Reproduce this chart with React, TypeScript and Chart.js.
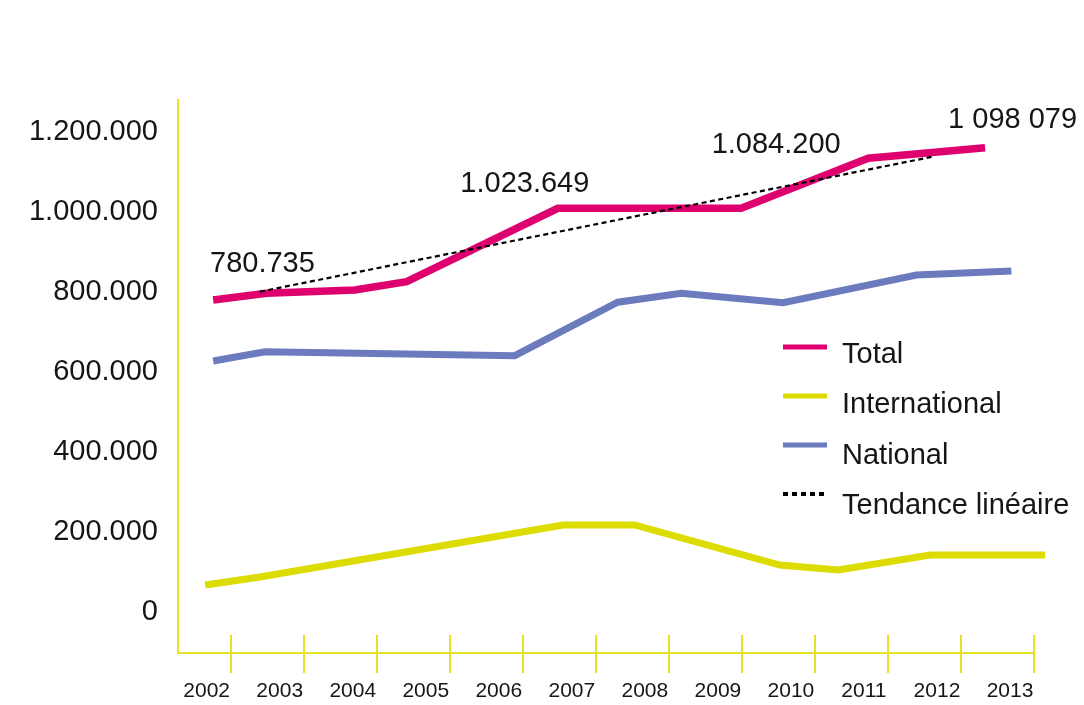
import React, { useEffect, useRef } from 'react';
import { Chart, registerables } from 'chart.js';

Chart.register(...registerables);

// ---- data ----
const years = [2002, 2003, 2004, 2005, 2006, 2007, 2008, 2009, 2010, 2011, 2012, 2013];
const yTickValues = [0, 200000, 400000, 600000, 800000, 1000000, 1200000];

const totalX = [2001.76, 2002.49, 2003.7, 2004.41, 2006.48, 2008.99, 2010.73, 2012.33];
const totalY = [780735, 797500, 805750, 826500, 1010000, 1010000, 1135000, 1161500];

const internationalX = [2001.65, 2002.38, 2006.55, 2007.53, 2009.52, 2010.32, 2011.58, 2013.15];
const internationalY = [68250, 87500, 218250, 218250, 118250, 105750, 143250, 143250];

const nationalX = [2001.76, 2002.47, 2005.89, 2007.3, 2008.17, 2009.565, 2011.39, 2012.69];
const nationalY = [628250, 651500, 641500, 775250, 797500, 774000, 843250, 853250];

const trendX = [2002.4, 2011.61];
const trendY = [801500, 1139000];

const seriesNames = ['Total', 'International', 'National', 'Tendance linéaire'];
const valueLabels = ['780.735', '1.023.649', '1.084.200', '1 098 079'];
const valueLabelPointIndex = [1, 4, 5, 7];

// ---- style ----
const PINK = '#DF006F';
const YELLOW = '#DCDC00';
const BLUE = '#6B7BBE';
const AXIS = '#E3E320';
const TEXT = '#161616';
const FONT = "'Liberation Sans', Arial, Helvetica, sans-serif";
const valueLabelOffsets: [number, number][] = [[-4, -21.6], [-33, -16.6], [35, -55], [27.5, -19.4]];

const fmt = (v: number) => String(v).replace(/\B(?=(\d{3})+(?!\d))/g, '.');
const pts = (xs: number[], ys: number[]) => xs.map((x, i) => ({ x, y: ys[i] }));

const upTicksPlugin = {
  id: 'upTicks',
  afterDraw(chart: any) {
    const { ctx, chartArea, scales } = chart;
    const xs = scales.x;
    ctx.save();
    ctx.strokeStyle = AXIS;
    ctx.lineWidth = 2;
    xs.ticks.forEach((t: any) => {
      const px = Math.round(xs.getPixelForValue(t.value));
      ctx.beginPath();
      ctx.moveTo(px, chartArea.bottom - 18);
      ctx.lineTo(px, chartArea.bottom);
      ctx.stroke();
    });
    ctx.restore();
  },
};

const valueLabelPlugin = {
  id: 'valueLabels',
  afterDatasetsDraw(chart: any) {
    const { ctx } = chart;
    const meta = chart.getDatasetMeta(0);
    ctx.save();
    ctx.font = `29px ${FONT}`;
    ctx.fillStyle = TEXT;
    ctx.textAlign = 'center';
    ctx.textBaseline = 'alphabetic';
    valueLabels.forEach((txt, i) => {
      const el = meta.data[valueLabelPointIndex[i]];
      const [dx, dy] = valueLabelOffsets[i];
      ctx.fillText(txt, el.x + dx, el.y + dy);
    });
    ctx.restore();
  },
};

const legendPlugin = {
  id: 'customLegend',
  afterDraw(chart: any) {
    const { ctx } = chart;
    ctx.save();
    chart.data.datasets.forEach((ds: any, i: number) => {
      const ly = 347 + i * 49;
      const by = 362.7 + i * 50.5;
      const dotted = i === 3;
      ctx.strokeStyle = ds.borderColor;
      ctx.lineWidth = dotted ? 4 : 5;
      ctx.setLineDash(dotted ? [5, 4] : []);
      ctx.beginPath();
      ctx.moveTo(783, ly);
      ctx.lineTo(827, ly);
      ctx.stroke();
      ctx.setLineDash([]);
      ctx.font = `29px ${FONT}`;
      ctx.fillStyle = TEXT;
      ctx.textAlign = 'left';
      ctx.textBaseline = 'alphabetic';
      ctx.fillText(ds.label, 842, by);
    });
    ctx.restore();
  },
};

export default function App() {
  const ref = useRef<HTMLCanvasElement>(null);

  useEffect(() => {
    if (!ref.current) return;
    const lineCommon = {
      pointRadius: 0,
      pointHoverRadius: 0,
      tension: 0,
      fill: false,
      clip: false as any,
      borderCapStyle: 'butt' as const,
      borderJoinStyle: 'miter' as const,
    };
    const chart = new Chart(ref.current, {
      type: 'line',
      data: {
        datasets: [
          { ...lineCommon, label: seriesNames[0], data: pts(totalX, totalY), borderColor: PINK, borderWidth: 7.5, order: 1 },
          { ...lineCommon, label: seriesNames[1], data: pts(internationalX, internationalY), borderColor: YELLOW, borderWidth: 7, order: 2 },
          { ...lineCommon, label: seriesNames[2], data: pts(nationalX, nationalY), borderColor: BLUE, borderWidth: 7, order: 3 },
          { ...lineCommon, label: seriesNames[3], data: pts(trendX, trendY), borderColor: '#000000', borderWidth: 2.2, borderDash: [5, 3.5], order: 0 },
        ],
      },
      options: {
        responsive: false,
        animation: false,
        events: [],
        layout: { padding: { top: 100, right: 50, bottom: 0, left: 0 } },
        plugins: {
          legend: { display: false },
          tooltip: { enabled: false },
        },
        scales: {
          x: {
            type: 'linear',
            position: 'bottom',
            min: 2001.2786,
            max: 2013,
            afterBuildTicks: (s: any) => {
              s.ticks = years.map((v) => ({ value: v }));
            },
            afterFit: (s: any) => {
              s.height = 52;
            },
            grid: {
              display: true,
              drawOnChartArea: false,
              drawTicks: true,
              tickLength: 20,
              color: AXIS,
              lineWidth: 2,
            },
            border: { display: true, color: AXIS, width: 2 },
            ticks: {
              autoSkip: false,
              maxRotation: 0,
              includeBounds: false,
              padding: 6,
              labelOffset: -24,
              color: TEXT,
              font: { family: FONT, size: 21 },
              callback: (v: any) => String(v),
            },
          },
          y: {
            type: 'linear',
            position: 'left',
            min: -101750,
            max: 1280750,
            afterBuildTicks: (s: any) => {
              s.ticks = yTickValues.map((v) => ({ value: v }));
            },
            afterFit: (s: any) => {
              s.width = 178;
            },
            grid: { display: false, drawTicks: false, drawOnChartArea: false },
            border: { display: true, color: AXIS, width: 2 },
            ticks: {
              includeBounds: false,
              padding: 20,
              color: TEXT,
              font: { family: FONT, size: 29 },
              callback: (v: any) => fmt(Number(v)),
            },
          },
        },
      },
      plugins: [upTicksPlugin, valueLabelPlugin, legendPlugin],
    });
    return () => chart.destroy();
  }, []);

  return (
    <div style={{ position: 'absolute', left: 0, top: 0, width: 1084, height: 705, background: '#ffffff' }}>
      <canvas ref={ref} width={1084} height={705} style={{ display: 'block', width: 1084, height: 705 }} />
    </div>
  );
}
